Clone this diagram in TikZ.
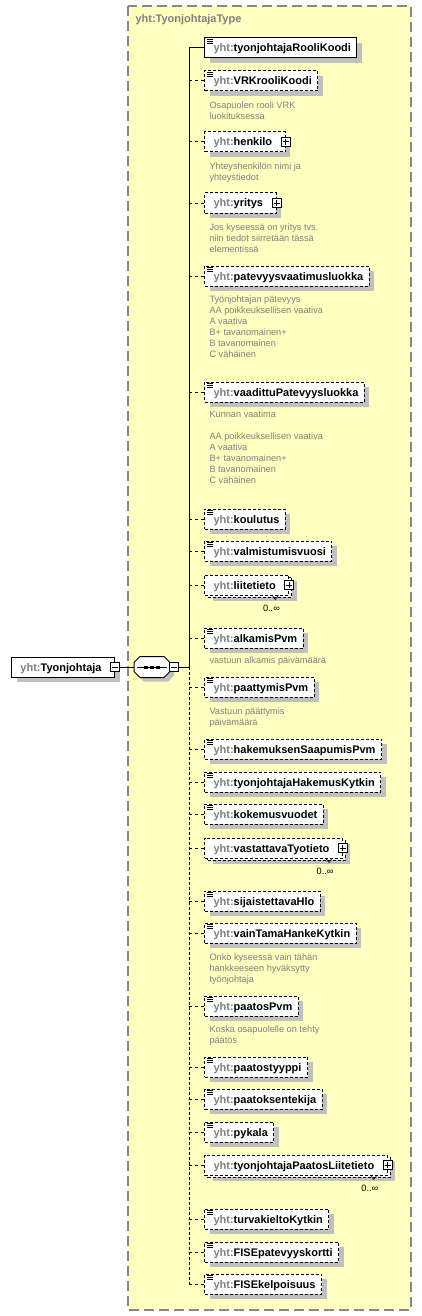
\documentclass[tikz,border=0pt]{standalone}
\usepackage{fontspec}
\setmainfont{Liberation Sans}
\usetikzlibrary{shadows}

\definecolor{typefill}{RGB}{255,255,192}
\definecolor{boxgray}{RGB}{136,136,136}
\definecolor{pfxgray}{RGB}{128,128,128}
\definecolor{shadowgray}{RGB}{192,192,192}

\newcommand{\elfont}{\fontsize{11}{13}\selectfont\bfseries}
\newcommand{\annofont}{\fontsize{9.2}{11}\selectfont}
\newcommand{\yht}[1]{{\color{pfxgray}yht:}#1}

\begin{document}
\begin{tikzpicture}[x=1pt,y=-1pt,line width=1pt]
\tikzstyle{typebox}=[draw=boxgray,fill=typefill,line width=1.5pt,dash pattern=on 10pt off 5pt]
\tikzstyle{typetitle}=[anchor=west,inner sep=0pt,text=pfxgray,font=\elfont,text height=8pt,text depth=0pt]
\tikzstyle{elbase}=[rectangle,draw,fill=white,anchor=west,minimum height=20pt,inner sep=0pt,text height=8pt,text depth=0pt,font=\elfont,execute at begin node={\hspace*{9pt}}]
\tikzstyle{req}=[elbase,drop shadow={shadow xshift=5pt,shadow yshift=-5pt,fill=shadowgray,opacity=1}]
\tikzstyle{opt}=[req,dash pattern=on 3pt off 2pt]
\tikzstyle{multi}=[elbase,dash pattern=on 3pt off 2pt,drop shadow={shadow xshift=8pt,shadow yshift=-6pt,fill=shadowgray,opacity=1},copy shadow={shadow xshift=3pt,shadow yshift=-2pt,fill=white,draw,dash pattern=on 3pt off 2pt,opacity=1}]
\tikzstyle{simple}=[execute at end node={\hspace*{6pt}},path picture={
  \draw[solid] ([xshift=2pt,yshift=-1.5pt]path picture bounding box.north west) -- ++(6pt,0pt);
  \draw[solid] ([xshift=2pt,yshift=-3.5pt]path picture bounding box.north west) -- ++(6pt,0pt);
  \draw[solid] ([xshift=2pt,yshift=-5.5pt]path picture bounding box.north west) -- ++(6pt,0pt);}]
\tikzstyle{cplx}=[execute at end node={\hspace*{13pt}}]
\tikzstyle{minusbox}=[rectangle,draw,solid,fill=white,minimum size=9pt,inner sep=0pt,path picture={
  \draw ([xshift=-3pt]path picture bounding box.center) -- ([xshift=3pt]path picture bounding box.center);}]
\tikzstyle{plusbox}=[rectangle,draw,solid,fill=white,minimum size=9pt,inner sep=0pt,path picture={
  \draw ([xshift=-3pt]path picture bounding box.center) -- ([xshift=3pt]path picture bounding box.center);
  \draw ([yshift=-3pt]path picture bounding box.center) -- ([yshift=3pt]path picture bounding box.center);}]
\tikzstyle{seqbox}=[rectangle,minimum width=35pt,minimum height=20pt,inner sep=0pt]
\tikzstyle{seqshape}=[draw,fill=white,drop shadow={shadow xshift=4pt,shadow yshift=-4pt,fill=shadowgray,opacity=1}]
\tikzstyle{conn}=[dash pattern=on 3pt off 3pt]
\tikzstyle{spine}=[dash pattern=on 3pt off 2pt]
\tikzstyle{anno}=[anchor=north west,align=left,inner sep=0pt,text=pfxgray,font=\annofont]
\tikzstyle{mult}=[anchor=base east,inner sep=0pt,font=\annofont]
\tikzstyle{notch}=[line width=0.6pt]

\fill[white] (0,0) rectangle (422,1316);
\useasboundingbox (0,0) rectangle (422,1316);

\draw[typebox] (128,6) rectangle (411,1310);
\node[typetitle] (typeName) at (135,19) {yht:TyonjohtajaType};

%the element and its sequence
\node[req,cplx] (main) at (11,667) {\yht{Tyonjohtaja}};
\node[minusbox] (mainMinus) at (main.east) {};
\node[seqbox] (seq) at (152,667) {};
\draw[seqshape] ([xshift=6pt]seq.north west) -- ([xshift=-6pt]seq.north east) -- ([yshift=-6pt]seq.north east)
  -- ([yshift=6pt]seq.south east) -- ([xshift=-6pt]seq.south east) -- ([xshift=6pt]seq.south west)
  -- ([yshift=6pt]seq.south west) -- ([yshift=-6pt]seq.north west) -- cycle;
\draw ([xshift=3pt]seq.west) -- ([xshift=-3pt]seq.east);
\fill ([xshift=-8pt,yshift=-1.5pt]seq.center) rectangle ++(4pt,3pt);
\fill ([xshift=-2pt,yshift=-1.5pt]seq.center) rectangle ++(4pt,3pt);
\fill ([xshift=4pt,yshift=-1.5pt]seq.center) rectangle ++(4pt,3pt);
\node[minusbox] (seqMinus) at ([xshift=4pt]seq.east) {};
\draw (mainMinus) -- (seq);

\coordinate (spTop) at (189,48);
\coordinate (spSeq) at (189,667);
\coordinate (spEnd) at (189,1284);
\draw (seqMinus) -- (spSeq);
\draw (spTop) -- (spSeq);
\draw[spine] (spSeq) -- (spEnd);

\node[req,simple] (e1) at (204,48) {\yht{tyonjohtajaRooliKoodi}};
\draw (spTop) -- (e1);

\node[opt,simple] (e2) at (204,81) {\yht{VRKrooliKoodi}};
\draw[conn] (spTop |- e2.west) -- (e2);
\node[anno] (a2) at (209,101) {Osapuolen rooli VRK\\luokituksessa};

\node[opt,cplx] (e3) at (204,142) {\yht{henkilo}};
\node[plusbox] (p3) at (e3.east) {};
\draw[conn] (spTop |- e3.west) -- (e3);
\node[anno] (a3) at (209,162) {Yhteyshenkilön nimi ja\\yhteystiedot};

\node[opt,cplx] (e4) at (204,203) {\yht{yritys}};
\node[plusbox] (p4) at (e4.east) {};
\draw[conn] (spTop |- e4.west) -- (e4);
\node[anno] (a4) at (209,223) {Jos kyseessä on yritys tvs.\\niin tiedot siirretään tässä\\elementissä};

\node[opt,simple] (e5) at (204,276) {\yht{patevyysvaatimusluokka}};
\draw[conn] (spTop |- e5.west) -- (e5);
\node[anno] (a5) at (209,295) {Työnjohtajan pätevyys\\AA poikkeuksellisen vaativa\\A vaativa\\B+ tavanomainen+\\B tavanomainen\\C vähäinen};

\node[opt,simple] (e6) at (204,392) {\yht{vaadittuPatevyysluokka}};
\draw[conn] (spTop |- e6.west) -- (e6);
\node[anno] (a6) at (209,410) {Kunnan vaatima\\[11pt]AA poikkeuksellisen vaativa\\A vaativa\\B+ tavanomainen+\\B tavanomainen\\C vähäinen};

\node[opt,simple] (e7) at (204,519) {\yht{koulutus}};
\draw[conn] (spTop |- e7.west) -- (e7);

\node[opt,simple] (e8) at (204,551) {\yht{valmistumisvuosi}};
\draw[conn] (spTop |- e8.west) -- (e8);

\node[multi,cplx] (e9) at (204,585) {\yht{liitetieto}};
\node[plusbox] (p9) at (e9.east) {};
\draw[notch] ([xshift=-17pt]e9.south east) -- ++(3pt,-4pt) -- ++(3pt,4pt);
\node[mult] (m9) at ([xshift=-9pt,yshift=-16pt]e9.south east) {0..∞};
\draw[conn] (spTop |- e9.west) -- (e9);

\node[opt,simple] (e10) at (204,638) {\yht{alkamisPvm}};
\draw[conn] (spTop |- e10.west) -- (e10);
\node[anno] (a10) at (209,656) {vastuun alkamis päivämäärä};

\node[opt,simple] (e11) at (204,687) {\yht{paattymisPvm}};
\draw[conn] (spTop |- e11.west) -- (e11);
\node[anno] (a11) at (209,707) {Vastuun päättymis\\päivämäärä};

\node[opt,simple] (e12) at (204,749) {\yht{hakemuksenSaapumisPvm}};
\draw[conn] (spTop |- e12.west) -- (e12);

\node[opt,simple] (e13) at (204,782) {\yht{tyonjohtajaHakemusKytkin}};
\draw[conn] (spTop |- e13.west) -- (e13);

\node[opt,simple] (e14) at (204,814) {\yht{kokemusvuodet}};
\draw[conn] (spTop |- e14.west) -- (e14);

\node[multi,cplx] (e15) at (204,848) {\yht{vastattavaTyotieto}};
\node[plusbox] (p15) at (e15.east) {};
\draw[notch] ([xshift=-17pt]e15.south east) -- ++(3pt,-4pt) -- ++(3pt,4pt);
\node[mult] (m15) at ([xshift=-9pt,yshift=-16pt]e15.south east) {0..∞};
\draw[conn] (spTop |- e15.west) -- (e15);

\node[opt,simple] (e16) at (204,901) {\yht{sijaistettavaHlo}};
\draw[conn] (spTop |- e16.west) -- (e16);

\node[opt,simple] (e17) at (204,933) {\yht{vainTamaHankeKytkin}};
\draw[conn] (spTop |- e17.west) -- (e17);
\node[anno] (a17) at (209,953) {Onko kyseessä vain tähän\\hankkeeseen hyväksytty\\työnjohtaja};

\node[opt,simple] (e18) at (204,1006) {\yht{paatosPvm}};
\draw[conn] (spTop |- e18.west) -- (e18);
\node[anno] (a18) at (209,1025) {Koska osapuolelle on tehty\\päätös};

\node[opt,simple] (e19) at (204,1067) {\yht{paatostyyppi}};
\draw[conn] (spTop |- e19.west) -- (e19);

\node[opt,simple] (e20) at (204,1099) {\yht{paatoksentekija}};
\draw[conn] (spTop |- e20.west) -- (e20);

\node[opt,simple] (e21) at (204,1132) {\yht{pykala}};
\draw[conn] (spTop |- e21.west) -- (e21);

\node[multi,cplx] (e22) at (204,1165) {\yht{tyonjohtajaPaatosLiitetieto}};
\node[plusbox] (p22) at (e22.east) {};
\draw[notch] ([xshift=-17pt]e22.south east) -- ++(3pt,-4pt) -- ++(3pt,4pt);
\node[mult] (m22) at ([xshift=-9pt,yshift=-16pt]e22.south east) {0..∞};
\draw[conn] (spTop |- e22.west) -- (e22);

\node[opt,simple] (e23) at (204,1219) {\yht{turvakieltoKytkin}};
\draw[conn] (spTop |- e23.west) -- (e23);

\node[opt,simple] (e24) at (204,1252) {\yht{FISEpatevyyskortti}};
\draw[conn] (spTop |- e24.west) -- (e24);

\node[opt,simple] (e25) at (204,1284) {\yht{FISEkelpoisuus}};
\draw[conn] (spEnd) -- (e25);

\end{tikzpicture}
\end{document}
